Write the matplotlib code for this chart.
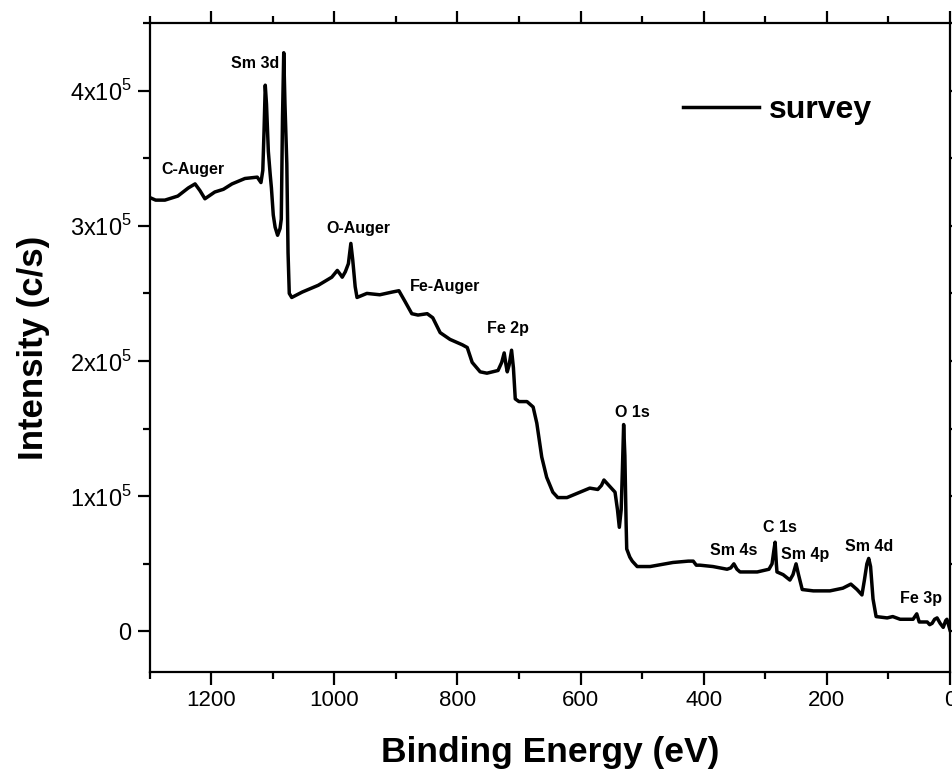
import matplotlib
matplotlib.use('Agg')
import matplotlib.pyplot as plt
from matplotlib.ticker import MultipleLocator, FuncFormatter

plt.rcParams['font.family'] = ['Liberation Sans', 'DejaVu Sans']

# XPS survey: binding energy (eV) and intensity (x10^3 c/s)
binding_energy = [1300, 1290, 1275, 1254, 1237, 1226, 1218, 1210, 1194, 1180,
                  1166, 1145, 1125, 1119, 1116, 1114, 1112, 1110, 1107, 1104,
                  1102, 1099, 1096, 1092, 1088, 1086, 1084, 1082, 1080, 1077,
                  1075, 1073, 1069, 1052, 1026, 1004, 995, 990, 987, 982,
                  977, 973, 970, 966, 963, 947, 926, 906, 895, 885,
                  874, 864, 849, 840, 828, 812, 792, 784, 776, 763,
                  752, 734, 728, 724, 721, 719, 716, 712, 709, 706,
                  700, 687, 677, 671, 663, 655, 645, 637, 622, 601,
                  585, 572, 566, 562, 552, 544, 540, 537, 534, 532,
                  530, 528, 526, 525, 520, 516, 508, 487, 450, 425,
                  417, 412, 406, 385, 362, 356, 351, 346, 341, 313,
                  294, 289, 286, 284, 282, 281, 271, 260, 255, 250,
                  246, 240, 222, 195, 174, 161, 151, 143, 139, 135,
                  132, 129, 125, 120, 102, 93, 81, 60, 54, 50,
                  37, 33, 29, 25, 21, 16, 11, 7, 5, 0]
intensity_k = [321, 319, 319, 322, 328, 331, 326, 320, 325, 327,
               331, 335, 336, 332, 341, 370, 404, 390, 355, 338,
               328, 308, 299, 293, 298, 305, 380, 428, 390, 346,
               280, 250, 247, 251, 256, 262, 267, 264, 262, 266,
               272, 287, 275, 255, 247, 250, 249, 251, 252, 244,
               235, 234, 235, 232, 221, 216, 212, 210, 199, 192,
               191, 193, 199, 206, 197, 192, 197, 208, 195, 172,
               170, 170, 166, 154, 129, 114, 103, 99, 99, 103,
               106, 105, 108, 112, 107, 103, 90, 77, 90, 120,
               153, 130, 80, 61, 55, 52, 48, 48, 51, 52,
               52, 49, 49, 48, 46, 47, 50, 46, 44, 44,
               46, 50, 60, 66, 50, 44, 42, 38, 42, 50,
               42, 31, 30, 30, 32, 35, 31, 27, 38, 50,
               54, 48, 24, 11, 10, 11, 9, 9, 13, 7,
               7, 5, 6, 9, 10, 6, 3, 8, 9, 1]
intensity = [v * 1e3 for v in intensity_k]

# peak labels: text, binding energy, intensity at label centre
peak_names = ['C-Auger', 'Sm 3d', 'O-Auger', 'Fe-Auger', 'Fe 2p', 'O 1s',
              'C 1s', 'Sm 4s', 'Sm 4p', 'Sm 4d', 'Fe 3p']
peak_be = [1230, 1129, 961, 820, 718, 516, 276, 351, 235, 132, 47]
peak_int = [3.42e5, 4.20e5, 2.98e5, 2.55e5, 2.24e5, 1.62e5, 0.77e5, 0.60e5,
            0.57e5, 0.63e5, 0.24e5]

fig = plt.figure(figsize=(9.52, 7.72), dpi=100)
ax = fig.add_axes([149.5 / 952, 100 / 772, 800.5 / 952, 649 / 772])

ax.plot(binding_energy, intensity, color='black', lw=2.5, label='survey')

for name, be, y in zip(peak_names, peak_be, peak_int):
    ax.text(be, y, name, ha='center', va='center', fontsize=11.5,
            fontweight='bold')

ax.set_xlim(1300, 0)
ax.set_ylim(-0.3e5, 4.5e5)
ax.xaxis.set_major_locator(MultipleLocator(200))
ax.xaxis.set_minor_locator(MultipleLocator(100))
ax.yaxis.set_major_locator(MultipleLocator(1e5))
ax.yaxis.set_minor_locator(MultipleLocator(0.5e5))


def sci_label(v, pos):
    if abs(v) < 1:
        return '0'
    return '%dx10$^{\\mathregular{5}}$' % round(v / 1e5)


ax.yaxis.set_major_formatter(FuncFormatter(sci_label))

for s in ax.spines.values():
    s.set_linewidth(1.6)
ax.tick_params(which='both', direction='out', width=1.6, top=True, right=True,
               labelsize=16)
ax.tick_params(axis='y', labelsize=17)
ax.tick_params(which='major', length=9, pad=4)
ax.tick_params(which='minor', length=5)

ax.set_xlabel('Binding Energy (eV)', fontsize=25.5, fontweight='bold', labelpad=18)
ax.set_ylabel('Intensity (c/s)', fontsize=25, fontweight='bold', labelpad=14)

ax.legend(loc='center left', bbox_to_anchor=(0.666, 0.866), frameon=False,
          borderpad=0, borderaxespad=0, handlelength=2.4, handletextpad=0.3,
          prop={'family': 'Liberation Sans', 'weight': 'bold', 'size': 23})

fig.savefig('out.png', dpi=100)
